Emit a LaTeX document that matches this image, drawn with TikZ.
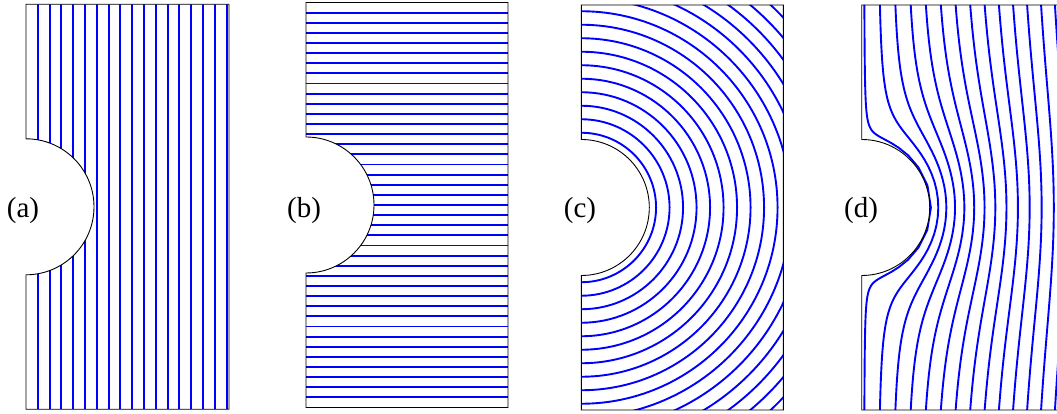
\documentclass[tikz,border=0pt]{standalone}
\usepackage{fontspec}
\setmainfont{Liberation Serif}
\newcommand{\notchpath}[1]{(0,0) -- (#1,0) -- (#1,405) -- (0,405) -- (0,270.5) arc[start angle=90, end angle=-90, radius=68] -- cycle}

\begin{document}
\begin{tikzpicture}[
    x=1pt, y=1pt,
    outline/.style={draw=black, line width=0.9pt},
    field/.style={blue, line width=1.9pt},
    tag/.style={anchor=base, font=\fontsize{29}{33}\selectfont, inner sep=0pt},
  ]
    \useasboundingbox (0,0) rectangle (1057,414);

    % (a) vertical lines
    \begin{scope}[shift={(26,4.7)}]
      \begin{scope}
        \clip \notchpath{203};
        \foreach \i in {1,...,17}
          \draw[field] (\i*11.8,0) -- (\i*11.8,405);
      \end{scope}
      \draw[outline] \notchpath{203};
    \end{scope}

    % (b) horizontal lines
    \begin{scope}[shift={(306,6.5)}]
      \begin{scope}
        \clip \notchpath{202};
        \foreach \i in {1,...,39}
          \draw[field] (0,\i*10.125) -- (202,\i*10.125);
      \end{scope}
      \draw[outline] \notchpath{202};
    \end{scope}

    % (c) concentric arcs
    \begin{scope}[shift={(581.3,4)}]
      \begin{scope}
        \clip \notchpath{202};
        \foreach \i in {1,...,16}
          \draw[field] (0,202.5) ++(90:{68+(\i-0.5)*13.5}) arc[start angle=90, end angle=-90, radius={68+(\i-0.5)*13.5}];
      \end{scope}
      \draw[outline] \notchpath{202};
    \end{scope}

    % (d) streamlines (r - 1/r) cos(phi) = const, r in notch radii
    \begin{scope}[shift={(861.7,4)}]
      \begin{scope}
        \clip \notchpath{203};
        \begin{scope}[shift={(0,202.5)}, scale=68]
          \foreach \i in {0,...,13}{
            \pgfmathsetmacro\lvl{0.035+0.203*\i}
            \pgfmathsetmacro\rmin{(\lvl+sqrt(\lvl*\lvl+4))/2}
            \pgfmathsetmacro\smax{sqrt(4.6-\rmin)}
            \draw[field] plot[variable=\s, domain=-\smax:\smax, samples=121]
              ({\lvl*(\rmin+(\s)*(\s))^2/((\rmin+(\s)*(\s))^2-1)},
               {(\rmin+(\s)*(\s))*(\s)*sqrt((\rmin+(\s)*(\s)+1/\rmin)*((\rmin+(\s)*(\s))^2-1+\lvl*(\rmin+(\s)*(\s))))/((\rmin+(\s)*(\s))^2-1)});
          }
        \end{scope}
      \end{scope}
      \draw[outline] \notchpath{203};
    \end{scope}

    \node[tag] (labA) at (23,196.7)  {(a)};
    \node[tag] (labB) at (304,196.7) {(b)};
    \node[tag] (labC) at (580,196.7) {(c)};
    \node[tag] (labD) at (861,196.7) {(d)};
\end{tikzpicture}
\end{document}
